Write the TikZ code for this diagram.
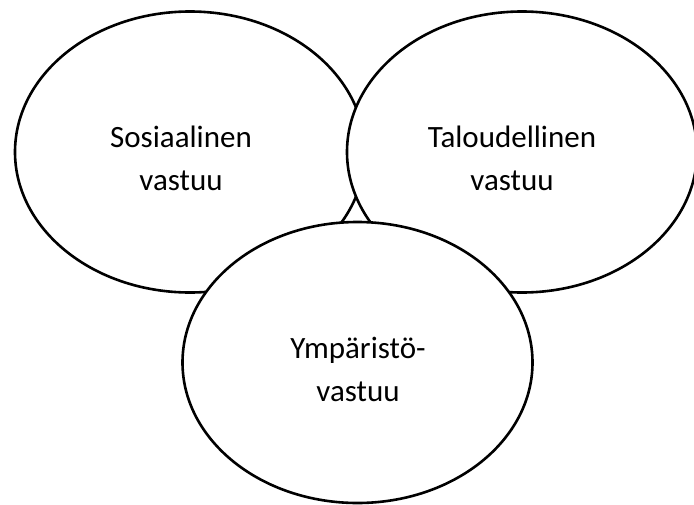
\documentclass[tikz,border=0pt]{standalone}
\usepackage{fontspec}
\setmainfont{Carlito}
\usetikzlibrary{shapes.geometric}
\begin{document}
\begin{tikzpicture}[x=1pt,y=-1pt,
  circ/.style={draw=black, fill=white, line width=2.6pt, ellipse, minimum width=350pt, minimum height=281pt, inner sep=0pt},
  lbl/.style={align=center, font=\fontsize{31}{43}\selectfont, inner sep=0pt}]
\useasboundingbox (0,0) rectangle (694,504);
\node[circ] (soc) at (190,152) {};
\node[circ] (eco) at (522,152) {};
\node[circ] (env) at (357.5,362.5) {};
\node[lbl] (soct) at (181,158) {Sosiaalinen\\vastuu};
\node[lbl] (ecot) at (512,158) {Taloudellinen\\vastuu};
\node[lbl] (envt) at (358,369) {Ympäristö-\\vastuu};
\end{tikzpicture}
\end{document}
